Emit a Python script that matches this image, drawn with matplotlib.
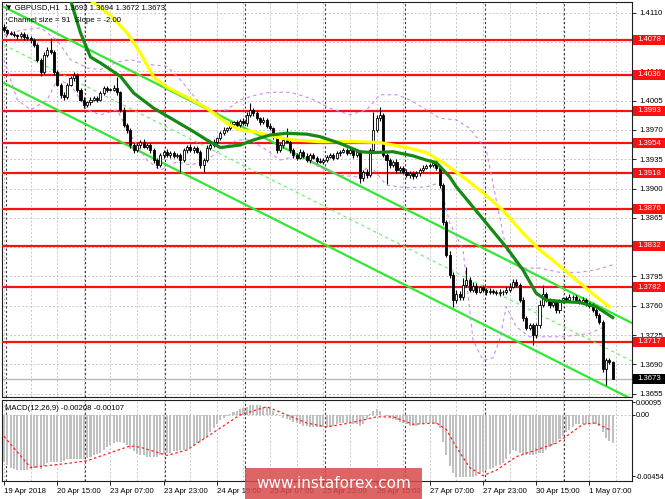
import matplotlib
matplotlib.use('Agg')
import matplotlib.pyplot as plt
import matplotlib.transforms as mtransforms
from matplotlib.patches import Rectangle
import numpy as np

plt.rcParams['font.family'] = ['Liberation Sans', 'DejaVu Sans']

# ---------------- data (GBPUSD H1) ----------------
first_open = 1.4093
closes = [
    1.4089, 1.4086, 1.4085, 1.4083, 1.4082, 1.4085, 1.4081, 1.4080, 1.4077, 1.4071,
    1.4054, 1.4039, 1.4060, 1.4065, 1.4063, 1.4039, 1.4024, 1.4012, 1.4009, 1.4024,
    1.4032, 1.4036, 1.4018, 1.4006, 1.4000, 1.4003, 1.4006, 1.4008, 1.4006, 1.4014,
    1.4020, 1.4018, 1.4018, 1.4020, 1.4015, 1.3994, 1.3976, 1.3970, 1.3952, 1.3946,
    1.3952, 1.3956, 1.3950, 1.3952, 1.3946, 1.3934, 1.3928, 1.3940, 1.3944, 1.3940,
    1.3943, 1.3939, 1.3940, 1.3934, 1.3946, 1.3950, 1.3946, 1.3949, 1.3944, 1.3928,
    1.3934, 1.3949, 1.3952, 1.3956, 1.3960, 1.3966, 1.3970, 1.3972, 1.3977, 1.3979,
    1.3976, 1.3981, 1.3978, 1.3988, 1.3994, 1.3990, 1.3984, 1.3979, 1.3982, 1.3975,
    1.3972, 1.3962, 1.3946, 1.3952, 1.3958, 1.3956, 1.3946, 1.3940, 1.3937, 1.3944,
    1.3939, 1.3934, 1.3940, 1.3937, 1.3933, 1.3932, 1.3934, 1.3938, 1.3940, 1.3937,
    1.3942, 1.3944, 1.3946, 1.3943, 1.3946, 1.3940, 1.3944, 1.3913, 1.3920, 1.3916,
    1.3946, 1.3970, 1.3984, 1.3988, 1.3940, 1.3934, 1.3928, 1.3932, 1.3922, 1.3925,
    1.3920, 1.3916, 1.3919, 1.3915, 1.3918, 1.3922, 1.3925, 1.3927, 1.3928, 1.3931,
    1.3925, 1.3904, 1.3860, 1.3821, 1.3797, 1.3767, 1.3774, 1.3770, 1.3785, 1.3791,
    1.3779, 1.3784, 1.3777, 1.3782, 1.3779, 1.3776, 1.3778, 1.3777, 1.3775, 1.3777,
    1.3776, 1.3779, 1.3783, 1.3789, 1.3785, 1.3767, 1.3746, 1.3734, 1.3737, 1.3725,
    1.3737, 1.3761, 1.3774, 1.3767, 1.3761, 1.3764, 1.3755, 1.3765, 1.3769, 1.3767,
    1.3771, 1.3770, 1.3767, 1.3765, 1.3767, 1.3763, 1.3760, 1.3755, 1.3749, 1.3741,
    1.3685, 1.3695, 1.3693, 1.3673,
]
wick_up_pips = [
    4, 2, 2, 3, 2, 2, 2, 3, 2, 3,
    3, 2, 3, 4, 15, 2, 3, 2, 3, 2,
    3, 3, 2, 2, 3, 2, 3, 2, 2, 3,
    3, 2, 2, 4, 13, 2, 3, 2, 2, 3,
    3, 2, 3, 2, 2, 2, 3, 3, 2, 3,
    2, 2, 3, 2, 3, 2, 3, 2, 2, 2,
    3, 3, 2, 3, 2, 3, 3, 2, 3, 2,
    3, 2, 3, 3, 8, 2, 3, 2, 3, 2,
    3, 2, 2, 3, 3, 14, 2, 2, 3, 3,
    2, 3, 2, 3, 2, 3, 2, 2, 3, 2,
    3, 2, 3, 2, 3, 2, 3, 2, 2, 3,
    3, 21, 4, 9, 2, 2, 3, 2, 3, 2,
    2, 3, 2, 2, 3, 2, 3, 2, 3, 3,
    3, 2, 3, 3, 4, 3, 5, 4, 8, 15,
    3, 4, 3, 2, 3, 2, 3, 2, 2, 3,
    2, 3, 4, 3, 3, 2, 3, 2, 3, 2,
    3, 6, 11, 3, 2, 3, 2, 3, 2, 3,
    3, 2, 3, 2, 3, 2, 2, 3, 2, 3,
    2, 3, 3, 1,
]
wick_dn_pips = [
    2, 3, 2, 2, 3, 2, 3, 2, 3, 2,
    3, 4, 2, 3, 2, 3, 2, 4, 3, 2,
    2, 3, 3, 2, 4, 2, 3, 2, 3, 2,
    2, 3, 2, 2, 3, 3, 2, 4, 3, 3,
    2, 3, 2, 3, 3, 3, 4, 2, 3, 2,
    3, 2, 2, 14, 2, 3, 2, 3, 2, 3,
    8, 2, 3, 2, 3, 2, 2, 3, 2, 2,
    3, 2, 2, 3, 2, 3, 2, 3, 2, 3,
    2, 3, 4, 2, 3, 2, 3, 4, 3, 2,
    3, 2, 3, 2, 3, 2, 3, 2, 2, 3,
    2, 3, 2, 3, 2, 3, 2, 6, 4, 3,
    2, 3, 2, 3, 2, 29, 3, 2, 4, 3,
    3, 2, 3, 4, 2, 3, 2, 2, 3, 2,
    3, 3, 4, 3, 4, 8, 4, 3, 3, 2,
    3, 2, 3, 2, 3, 3, 2, 3, 2, 3,
    3, 2, 3, 2, 3, 3, 4, 3, 3, 12,
    3, 4, 3, 3, 4, 3, 4, 3, 2, 3,
    2, 3, 2, 3, 2, 3, 3, 2, 3, 3,
    4, 19, 3, 1,
]

levels = [1.4078, 1.4036, 1.3993, 1.3954, 1.3918, 1.3876, 1.3832, 1.3782, 1.3717]
last_price = 1.3673

ma_green_idx = [17, 20, 23, 26, 29, 35, 39, 45, 51, 57, 61, 65, 71, 75, 80, 85, 91, 95,
                101, 107, 111, 117, 123, 127, 130, 134, 136, 141, 146, 151, 156, 160,
                163, 168, 173, 178, 183]
ma_green_val = [1.4149, 1.4125, 1.4086, 1.4057, 1.4050, 1.4034, 1.4014, 1.3996, 1.3982,
                1.3968, 1.3958, 1.3949, 1.3952, 1.3958, 1.3964, 1.3966, 1.3965, 1.3962,
                1.3954, 1.3944, 1.3943, 1.3944, 1.3939, 1.3934, 1.3931, 1.3914, 1.3902,
                1.3878, 1.3854, 1.3830, 1.3803, 1.3775, 1.3767, 1.3765, 1.3764, 1.3759,
                1.3746]

ma_yellow_idx = [22, 26, 32, 37, 41, 45, 49, 55, 61, 67, 71, 75, 81, 87, 95, 105, 113,
                 121, 127, 132, 138, 144, 150, 156, 161, 166, 172, 178, 182]
ma_yellow_val = [1.4145, 1.4125, 1.4107, 1.4086, 1.4062, 1.4033, 1.4021, 1.4009, 1.3996,
                 1.3978, 1.3970, 1.3968, 1.3962, 1.3958, 1.3956, 1.3956, 1.3955, 1.3949,
                 1.3943, 1.3931, 1.3914, 1.3895, 1.3874, 1.3847, 1.3827, 1.3811, 1.3791,
                 1.3771, 1.3759]

band_up_idx = [0, 5, 11, 16, 20, 25, 29, 34, 38, 44, 49, 53, 58, 62, 67, 71, 76, 80, 86,
               92, 98, 104, 109, 113, 118, 122, 127, 131, 136, 140, 145, 148, 151, 155,
               161, 167, 173, 178, 183]
band_up_val = [1.4083, 1.4089, 1.4092, 1.4077, 1.4054, 1.4044, 1.4042, 1.4051, 1.4054,
               1.4048, 1.4046, 1.4030, 1.4006, 1.3991, 1.3994, 1.4006, 1.4012, 1.4015,
               1.4015, 1.4008, 1.3996, 1.3988, 1.3994, 1.4012, 1.4012, 1.4006, 1.3994,
               1.3984, 1.3982, 1.3972, 1.3946, 1.3886, 1.3827, 1.3805, 1.3805, 1.3800,
               1.3800, 1.3803, 1.3809]

band_dn_idx = [0, 4, 8, 13, 16, 20, 25, 29, 34, 38, 43, 47, 52, 56, 61, 65, 70, 74, 79,
               83, 89, 95, 101, 106, 110, 115, 121, 127, 131, 134, 138, 141, 144, 147,
               149, 151, 154, 158, 168, 176, 180]
band_dn_val = [1.4054, 1.4006, 1.3994, 1.4006, 1.4030, 1.4024, 1.3994, 1.3988, 1.3994,
               1.3964, 1.3934, 1.3922, 1.3932, 1.3928, 1.3934, 1.3946, 1.3958, 1.3958,
               1.3946, 1.3934, 1.3940, 1.3925, 1.3916, 1.3914, 1.3928, 1.3904, 1.3901,
               1.3902, 1.3907, 1.3859, 1.3827, 1.3719, 1.3695, 1.3698, 1.3719, 1.3759,
               1.3735, 1.3723, 1.3723, 1.3727, 1.3734]

chan_idx = [0, 189]
chan_upper = [1.4117, 1.3739]
chan_lower = [1.4026, 1.3648]

macd_hist = [
    -0.0035, -0.0037, -0.0039, -0.0040, -0.0041, -0.0041, -0.0041, -0.0041, -0.0040, -0.0039,
    -0.0039, -0.0040, -0.0038, -0.0036, -0.0035, -0.0035, -0.0035, -0.0035, -0.0034, -0.0033,
    -0.0033, -0.0033, -0.0033, -0.0033, -0.0033, -0.0032, -0.0031, -0.0030, -0.0029, -0.0028,
    -0.0026, -0.0024, -0.0022, -0.0021, -0.0020, -0.0020, -0.0021, -0.0022, -0.0025, -0.0027,
    -0.0029, -0.0030, -0.0030, -0.0031, -0.0031, -0.0031, -0.0031, -0.0030, -0.0029, -0.0028,
    -0.0028, -0.0027, -0.0027, -0.0026, -0.0026, -0.0025, -0.0024, -0.0023, -0.0021, -0.0020,
    -0.0018, -0.0016, -0.0013, -0.0010, -0.0007, -0.0004, -0.0002, -0.0001, 0.0001, 0.0002,
    0.0003, 0.0004, 0.0005, 0.0006, 0.0007, 0.0007, 0.0007, 0.0007, 0.0006, 0.0006,
    0.0005, 0.0003, 0.0001, -0.0001, -0.0002, -0.0003, -0.0004, -0.0005, -0.0006, -0.0007,
    -0.0008, -0.0008, -0.0009, -0.0009, -0.0009, -0.0009, -0.0009, -0.0009, -0.0009, -0.0008,
    -0.0007, -0.0006, -0.0006, -0.0006, -0.0006, -0.0007, -0.0007, -0.0008, -0.0007, -0.0003,
    0.0001, 0.0003, 0.0004, 0.0003, 0.0000, -0.0001, -0.0002, -0.0003, -0.0004, -0.0005,
    -0.0006, -0.0007, -0.0008, -0.0008, -0.0008, -0.0007, -0.0007, -0.0006, -0.0006, -0.0006,
    -0.0007, -0.0010, -0.0020, -0.0030, -0.0038, -0.0043, -0.0046, -0.0046, -0.0046, -0.0046,
    -0.0046, -0.0046, -0.0045, -0.0044, -0.0042, -0.0041, -0.0040, -0.0039, -0.0038, -0.0037,
    -0.0036, -0.0033, -0.0029, -0.0026, -0.0027, -0.0028, -0.0029, -0.0030, -0.0030, -0.0030,
    -0.0029, -0.0028, -0.0028, -0.0026, -0.0024, -0.0022, -0.0020, -0.0018, -0.0016, -0.0013,
    -0.0011, -0.0009, -0.0007, -0.0007, -0.0007, -0.0007, -0.0007, -0.0007, -0.0007, -0.0008,
    -0.0013, -0.0017, -0.0019, -0.0021,
]
signal_idx = [0, 8, 19, 25, 32, 38, 41, 49, 55, 63, 71, 79, 85, 91, 97, 104, 112, 117,
              123, 130, 133, 136, 140, 144, 148, 154, 160, 166, 169, 174, 178, 182]
signal_val = [-0.0016, -0.0039, -0.0036, -0.0034, -0.0028, -0.0023, -0.0024, -0.0030,
              -0.0026, -0.0013, 0.0000, 0.0006, 0.0000, -0.0006, -0.0009, -0.0006,
              -0.00015, -0.00015, -0.0007, -0.0006, -0.0011, -0.0024, -0.0039, -0.0045,
              -0.0041, -0.0031, -0.0026, -0.0021, -0.0016, -0.0007, -0.0006, -0.0011]

x_tick_idx = [0, 16, 32, 48, 64, 80, 96, 112, 128, 144, 160, 176]
x_tick_labels = ['19 Apr 2018', '20 Apr 15:00', '23 Apr 07:00', '23 Apr 23:00',
                 '24 Apr 15:00', '25 Apr 07:00', '25 Apr 23:00', '26 Apr 15:00',
                 '27 Apr 07:00', '27 Apr 23:00', '30 Apr 15:00', '1 May 07:00']
day_sep_idx = [0.5, 24.5, 48.5, 72.5, 96.5, 120.5, 144.5, 168.5]
price_ticks = [1.3655, 1.3690, 1.3725, 1.3760, 1.3795, 1.3830, 1.3865, 1.3900,
               1.3935, 1.3970, 1.4005, 1.4040, 1.4075, 1.4110]
macd_ticks = [0.00095, 0.0, -0.00454]
macd_tick_labels = ['0.00095', '0.00', '-0.00454']

# ---------------- figure ----------------
W, H = 665, 499
fig = plt.figure(figsize=(W / 100, H / 100), dpi=100)


def px_rect(x0, y0, x1, y1):
    return [x0 / W, 1 - y1 / H, (x1 - x0) / W, (y1 - y0) / H]


ax = fig.add_axes(px_rect(2, 2, 632, 397))
ax2 = fig.add_axes(px_rect(2, 400, 632, 481), sharex=ax)

grid_kw = dict(color='#c8c8c8', ls=(0, (2, 2)), lw=0.7, zorder=0)
sep_kw = dict(color='#3a3a3a', ls=(0, (2, 2)), lw=0.8, zorder=0.5)
for a in (ax, ax2):
    for g in range(0, 189, 8):
        a.axvline(g, **grid_kw)
    for d in day_sep_idx:
        a.axvline(d, **sep_kw)
    for s in a.spines.values():
        s.set_color('#202020')
        s.set_linewidth(0.8)

# horizontal grid
for t in price_ticks:
    ax.axhline(t, **grid_kw)
ax2.axhline(0, **grid_kw)

# candles
c = np.array(closes)
o = np.concatenate([[first_open], c[:-1]])
hi = np.maximum(o, c) + np.array(wick_up_pips) * 1e-4
lo = np.minimum(o, c) - np.array(wick_dn_pips) * 1e-4
idx = np.arange(len(c))
ax.vlines(idx, lo, hi, color='black', lw=0.8, zorder=4)
body_lo = np.minimum(o, c)
body_h = np.maximum(np.abs(c - o), 0.00004)
up = c >= o
ax.bar(idx[up], body_h[up], bottom=body_lo[up], width=0.62, color='white',
       edgecolor='black', lw=0.6, zorder=4.5)
ax.bar(idx[~up], body_h[~up], bottom=body_lo[~up], width=0.62, color='black',
       edgecolor='black', lw=0.6, zorder=4.5)

# horizontal levels
for lv in levels:
    ax.axhline(lv, color='#ff1010', lw=1.6, zorder=3)
ax.axhline(last_price, color='#b8b8b8', lw=1.0, zorder=2)

# channel
ax.plot(chan_idx, chan_upper, color='#33e633', lw=1.6, zorder=3.5)
ax.plot(chan_idx, chan_lower, color='#33e633', lw=1.6, zorder=3.5)
chan_mid = [(u + l) / 2 for u, l in zip(chan_upper, chan_lower)]
ax.plot(chan_idx, chan_mid, color='#66ee66', lw=0.8, ls=(0, (3, 3)), zorder=3.5)

# envelopes
ax.plot(band_up_idx, band_up_val, color='#c88cf0', lw=0.8, ls=(0, (3, 3)), zorder=3.6)
ax.plot(band_dn_idx, band_dn_val, color='#c88cf0', lw=0.8, ls=(0, (3, 3)), zorder=3.6)

# moving averages
ax.plot(ma_yellow_idx, ma_yellow_val, color='#ffff00', lw=2.3, zorder=5,
        solid_joinstyle='round')
ax.plot(ma_green_idx, ma_green_val, color='#148a14', lw=2.3, zorder=5.1,
        solid_joinstyle='round')

ax.set_xlim(-0.6, 188.8)
ax.set_ylim(1.36511, 1.41228)
ax.yaxis.tick_right()
ax.set_yticks(price_ticks)
ax.set_yticklabels([f'{t:.4f}' for t in price_ticks])
ax.tick_params(axis='y', length=3, width=0.6, pad=2, labelsize=5.6)
ax.tick_params(axis='x', bottom=False, labelbottom=False)

# price tags on the right scale
blend = mtransforms.blended_transform_factory(ax.transAxes, ax.transData)
tag_h = 10 / 8374          # ~10 px tall
tag_w = 33 / 630           # to the figure edge


def price_tag(price, face):
    ax.add_patch(Rectangle((1.002, price - tag_h / 2), tag_w, tag_h, transform=blend,
                           fc=face, ec='none', clip_on=False, zorder=6))
    ax.text(1.008, price, f'{price:.4f}', transform=blend, color='white', fontsize=5.6,
            va='center', ha='left', clip_on=False, zorder=7)


for lv in levels:
    price_tag(lv, '#ff1010')
price_tag(last_price, 'black')

# MACD panel
ax2.bar(idx, macd_hist, width=0.62, color='#c0c0c0', zorder=2)
ax2.plot(signal_idx, signal_val, color='#ff2020', lw=0.9, ls=(0, (2, 2)), zorder=3)
ax2.set_ylim(-0.0049, 0.0011)
ax2.yaxis.tick_right()
ax2.set_yticks(macd_ticks)
ax2.set_yticklabels(macd_tick_labels)
ax2.tick_params(axis='y', length=2, width=0.6, pad=1, labelsize=5.2)
ax2.set_xticks(x_tick_idx)
ax2.set_xticklabels(x_tick_labels)
ax2.tick_params(axis='x', length=3, width=0.6, pad=2, labelsize=5.6)
plt.setp(ax2.get_xticklabels(), ha='left')

# overlay texts
fig.text(5 / W, 1 - 8 / H, '\u25bc GBPUSD,H1  1.3693 1.3694 1.3672 1.3673', fontsize=5.6,
         va='center', ha='left')
fig.text(8 / W, 1 - 20 / H, 'Channel size = 91  Slope = -2.00', fontsize=5.6,
         va='center', ha='left')
fig.text(5 / W, 1 - 408 / H, 'MACD(12,26,9) -0.00208 -0.00107', fontsize=5.6,
         va='center', ha='left')

# watermark
fig.add_artist(Rectangle((245 / W, 0), (422 - 245) / W, (499 - 468) / H,
                         transform=fig.transFigure, fc='#d84a4a', ec='none',
                         alpha=0.85, zorder=10))
fig.text(334 / W, 1 - 484 / H, 'www.instaforex.com', color='white', fontsize=11,
         family='DejaVu Sans', ha='center', va='center', zorder=11)

fig.savefig('out.png', dpi=100)
